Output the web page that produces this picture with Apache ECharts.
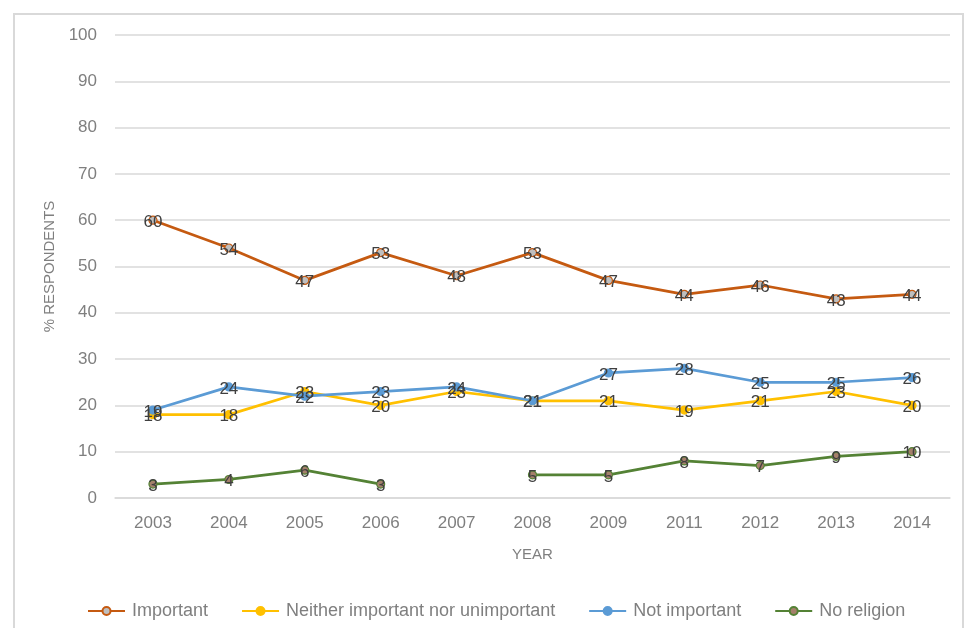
<!DOCTYPE html>
<html>
<head>
<meta charset="utf-8">
<script src="https://cdn.jsdelivr.net/npm/echarts@6/dist/echarts.min.js"></script>
<style>
  html, body { margin: 0; padding: 0; background: #fff; }
  #frame { position: absolute; left: 13px; top: 13px; width: 951px; height: 640px; border: 2px solid #d9d9d9; border-bottom: none; box-sizing: border-box; }
  #chart { position: absolute; left: 0; top: 0; width: 971px; height: 628px; }
</style>
</head>
<body>
<div id="frame"></div>
<div id="chart"></div>
<script>
const years = ['2003', '2004', '2005', '2006', '2007', '2008', '2009', '2011', '2012', '2013', '2014'];
const important = [60, 54, 47, 53, 48, 53, 47, 44, 46, 43, 44];
const neither = [18, 18, 23, 20, 23, 21, 21, 19, 21, 23, 20];
const notImportant = [19, 24, 22, 23, 24, 21, 27, 28, 25, 25, 26];
const noReligion = [3, 4, 6, 3, null, 5, 5, 8, 7, 9, 10];
const yTicks = { min: 0, max: 100, interval: 10 };

const FONT = "'Liberation Sans', Arial, sans-serif";
const GREY = '#7f7f7f';

function lineSeries(name, data, lineColor, fillColor) {
  return {
    name: name,
    type: 'line',
    data: data,
    connectNulls: false,
    symbol: 'circle',
    symbolSize: 8,
    lineStyle: { color: lineColor, width: 2.75 },
    itemStyle: { color: fillColor, borderColor: lineColor, borderWidth: 1.2 },
    label: {
      show: true,
      position: 'inside',
      offset: [0, 2],
      color: '#3f3f3f',
      fontSize: 17,
      fontFamily: FONT
    },
    emphasis: { disabled: true },
    animation: false
  };
}

const chart = echarts.init(document.getElementById('chart'));
chart.setOption({
  backgroundColor: 'transparent',
  animation: false,
  grid: { left: 115, right: 21, top: 35, bottom: 130 },
  legend: {
    top: 597,
    left: 82,
    itemGap: 33,
    itemWidth: 37,
    itemHeight: 10,
    textStyle: { color: GREY, fontSize: 18, fontFamily: FONT, padding: [0, 0, 0, 2] },
    data: ['Important', 'Neither important nor unimportant', 'Not important', 'No religion']
  },
  xAxis: {
    type: 'category',
    data: years,
    boundaryGap: true,
    name: 'YEAR',
    nameLocation: 'middle',
    nameGap: 49,
    nameTextStyle: { color: GREY, fontSize: 15, fontFamily: FONT },
    axisLine: { show: true, lineStyle: { color: '#d9d9d9', width: 1.5 } },
    axisTick: { show: false },
    axisLabel: { color: GREY, fontSize: 17, fontFamily: FONT, margin: 17 }
  },
  yAxis: {
    type: 'value',
    min: yTicks.min,
    max: yTicks.max,
    interval: yTicks.interval,
    name: '% RESPONDENTS',
    nameLocation: 'middle',
    nameRotate: 90,
    nameGap: 58,
    nameTextStyle: { color: GREY, fontSize: 15, fontFamily: FONT },
    axisLine: { show: false },
    axisTick: { show: false },
    axisLabel: { color: GREY, fontSize: 17, fontFamily: FONT, margin: 18 },
    splitLine: { lineStyle: { color: '#d9d9d9', width: 1.5 } }
  },
  series: [
    lineSeries('Important', important, '#c55a11', '#bfbfbf'),
    lineSeries('Neither important nor unimportant', neither, '#ffc000', '#ffc000'),
    lineSeries('Not important', notImportant, '#5b9bd5', '#5b9bd5'),
    lineSeries('No religion', noReligion, '#548235', '#a5806b')
  ]
});
</script>
</body>
</html>
